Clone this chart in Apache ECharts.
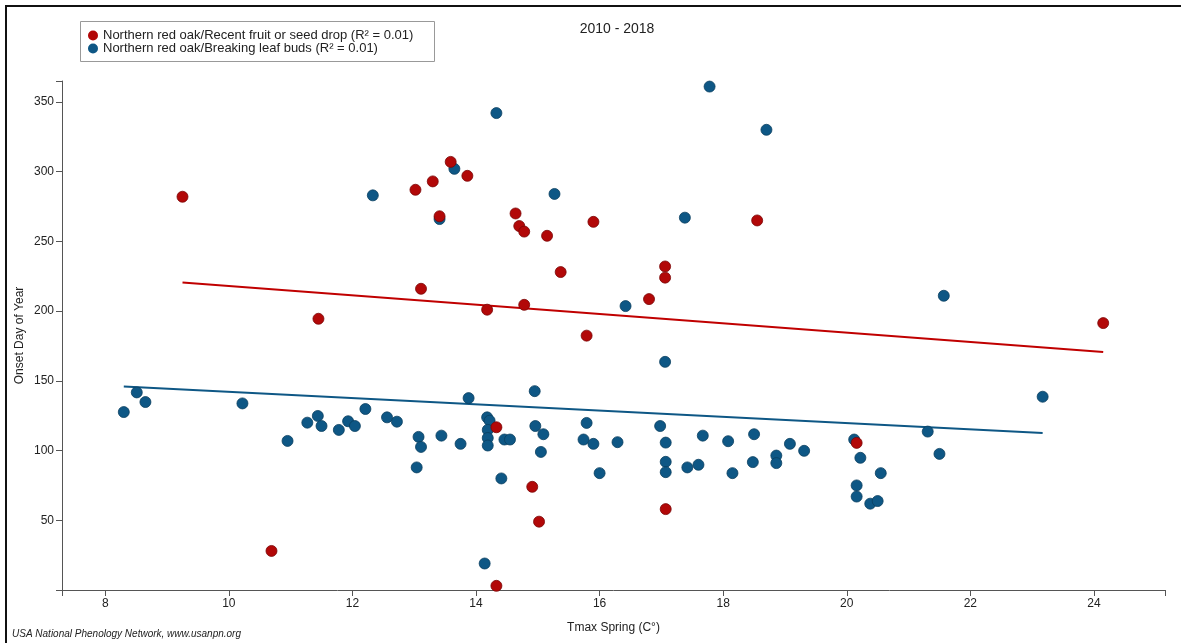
<!DOCTYPE html>
<html>
<head>
<meta charset="utf-8">
<script src="https://cdn.jsdelivr.net/npm/echarts@6/dist/echarts.min.js"></script>
<style>
html,body{margin:0;padding:0;background:#fff;}
#chart{width:1181px;height:643px;}
</style>
</head>
<body>
<div id="chart"></div>
<script>
// Northern red oak / Recent fruit or seed drop
const redX = [9.25, 10.69, 11.45, 13.02, 13.11, 13.30, 13.41, 13.59, 13.86, 14.18, 14.33, 14.33, 14.64, 14.70, 14.78, 14.78, 14.91, 15.02, 15.15, 15.37, 15.79, 15.90, 16.80, 17.06, 17.06, 17.07, 18.55, 20.16, 24.15];
const redY = [282, 28, 194.5, 287, 216, 293, 268, 307, 297, 201, 116.7, 3, 270, 261, 257, 204.5, 74, 49, 254, 228, 182.4, 264, 208.6, 232, 224, 58, 265, 105.5, 191.4];
// Northern red oak / Breaking leaf buds
const blueX = [8.30, 8.51, 8.65, 10.22, 10.95, 11.27, 11.44, 11.50, 11.78, 11.93, 12.04, 12.21, 12.33, 12.56, 12.72, 13.04, 13.07, 13.11, 13.41, 13.44, 13.65, 13.75, 13.88, 14.14, 14.18, 14.22, 14.19, 14.19, 14.19, 14.33, 14.41, 14.46, 14.55, 14.95, 14.96, 15.05, 15.09, 15.27, 15.74, 15.79, 15.90, 16.00, 16.29, 16.42, 16.98, 17.06, 17.07, 17.07, 17.07, 17.38, 17.42, 17.60, 17.67, 17.78, 18.08, 18.15, 18.48, 18.50, 18.70, 18.86, 18.86, 19.08, 19.31, 20.12, 20.16, 20.16, 20.22, 20.38, 20.50, 20.55, 21.31, 21.50, 21.57, 23.17];
const blueY = [127.6, 141.7, 134.8, 133.8, 106.9, 120, 124.8, 117.6, 114.8, 121, 117.6, 129.8, 283, 123.8, 120.7, 87.9, 109.8, 102.6, 266, 110.7, 302, 104.8, 137.6, 19, 123.8, 121.4, 114.8, 109, 103.6, 342, 80, 107.9, 107.9, 142.6, 117.6, 99, 111.7, 284, 107.9, 119.8, 104.8, 83.8, 106, 203.6, 117.6, 163.6, 105.7, 91.9, 84.5, 267, 87.9, 89.8, 110.7, 361, 106.7, 83.8, 91.7, 111.7, 330, 96.4, 91, 104.8, 99.8, 107.9, 75, 67, 94.8, 61.9, 63.8, 83.8, 113.6, 97.6, 211, 138.6];
// Trend line end points
const redTrendX = [9.25, 24.15];
const redTrendY = [220.5, 170.7];
const blueTrendX = [8.30, 23.17];
const blueTrendY = [146, 112.6];

const redName = 'Northern red oak/Recent fruit or seed drop (R\u00B2 = 0.01)';
const blueName = 'Northern red oak/Breaking leaf buds (R\u00B2 = 0.01)';
const titleText = '2010 - 2018';
const xName = 'Tmax Spring (C\u00B0)';
const yName = 'Onset Day of Year';
const credit = 'USA National Phenology Network, www.usanpn.org';

const RED = '#b20808';
const BLUE = '#0e5785';
const zip = (xs, ys) => xs.map((x, i) => [x, ys[i]]);
const FONT = 'Liberation Sans, Arial, sans-serif';

const chart = echarts.init(document.getElementById('chart'), null, {renderer: 'canvas'});
chart.setOption({
  backgroundColor: '#fff',
  animation: false,
  textStyle: {fontFamily: FONT},
  title: {
    text: titleText, left: 612, top: 17, textAlign: 'center',
    textStyle: {fontSize: 14, fontWeight: 'normal', color: '#222', fontFamily: FONT}
  },
  legend: {
    data: [redName, blueName],
    orient: 'vertical', left: 88, top: 29, itemGap: 0,
    icon: 'circle', itemWidth: 10, itemHeight: 10,
    itemStyle: {borderWidth: 0},
    textStyle: {fontSize: 13, lineHeight: 13, color: '#222', fontFamily: FONT, padding: [0,0,0,0]},
    padding: 0
  },
  grid: {left: 62, right: 16, top: 81, bottom: 53, containLabel: false},
  xAxis: {
    type: 'value', min: 7.3, max: 25.15, splitNumber: 9, minInterval: 2, maxInterval: 2,
    name: xName, nameLocation: 'middle', nameGap: 32, nameMoveOverlap: false,
    nameTextStyle: {fontSize: 12, color: '#222', fontFamily: FONT},
    axisLine: {onZero: false, lineStyle: {color: '#555', width: 1}},
    axisTick: {length: 6, lineStyle: {color: '#555'}},
    axisLabel: {fontSize: 12, color: '#222', margin: 8,
      formatter: v => Number.isInteger(v) ? String(v) : ''},
    splitLine: {show: false}
  },
  yAxis: {
    type: 'value', min: 0, max: 365, interval: 50,
    name: yName, nameLocation: 'middle', nameGap: 36, nameMoveOverlap: false,
    nameTextStyle: {fontSize: 12, color: '#222', fontFamily: FONT},
    axisLine: {show: true, onZero: false, lineStyle: {color: '#555', width: 1}},
    axisTick: {show: true, length: 6, lineStyle: {color: '#555'}},
    axisLabel: {fontSize: 12, color: '#222', margin: 8,
      formatter: v => (v > 0 && v % 50 === 0) ? String(v) : ''},
    splitLine: {show: false}
  },
  graphic: [
    {type: 'line', shape: {x1: 5, y1: 6, x2: 1181, y2: 6}, style: {stroke: '#111', lineWidth: 2}},
    {type: 'line', shape: {x1: 6, y1: 5, x2: 6, y2: 643}, style: {stroke: '#111', lineWidth: 2}},
    {type: 'rect', shape: {x: 80.5, y: 21.5, width: 354, height: 40}, style: {fill: 'none', stroke: '#999', lineWidth: 1}, z: -1},
    {type: 'text', left: 12, top: 629, style: {text: credit, font: 'italic 10px Liberation Sans, Arial, sans-serif', fill: '#222'}}
  ],
  series: [
    {
      name: blueName, type: 'scatter', data: zip(blueX, blueY), symbolSize: 11,
      itemStyle: {color: BLUE, borderColor: '#0a3f60', borderWidth: 0.8, opacity: 1}, z: 3
    },
    {
      name: redName, type: 'scatter', data: zip(redX, redY), symbolSize: 11,
      itemStyle: {color: RED, borderColor: '#7a0505', borderWidth: 0.8, opacity: 1}, z: 4
    },
    {
      name: 'redTrend', type: 'line', data: zip(redTrendX, redTrendY), showSymbol: false, symbol: 'none',
      lineStyle: {color: '#c00000', width: 2}, z: 2, silent: true
    },
    {
      name: 'blueTrend', type: 'line', data: zip(blueTrendX, blueTrendY), showSymbol: false, symbol: 'none',
      lineStyle: {color: BLUE, width: 2}, z: 2, silent: true
    }
  ]
});
</script>
</body>
</html>
